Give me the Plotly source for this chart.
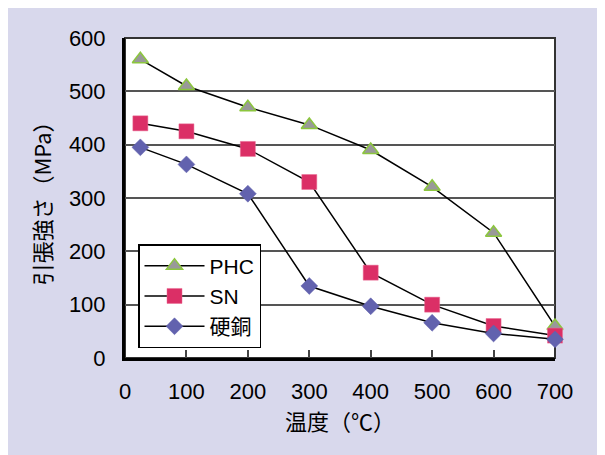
import plotly.graph_objects as go

temps = [25, 100, 200, 300, 400, 500, 600, 700]
phc = [560, 510, 470, 437, 390, 321, 235, 60]
sn = [440, 425, 392, 330, 160, 100, 60, 42]
hard_copper = [395, 363, 308, 135, 97, 66, 46, 35]
x_ticks = [0, 100, 200, 300, 400, 500, 600, 700]
y_ticks = [0, 100, 200, 300, 400, 500, 600]

FONT = "Liberation Sans, Arial, Noto Sans CJK JP"
CJK = "Noto Sans CJK JP, " + FONT

fig = go.Figure()
fig.add_trace(go.Scatter(
    x=temps, y=phc, name="PHC", mode="lines+markers",
    line=dict(color="black", width=1.5),
    marker=dict(symbol="triangle-up", size=14, color="#999999",
                line=dict(color="#8CC63E", width=1.5)),
    cliponaxis=False))
fig.add_trace(go.Scatter(
    x=temps, y=sn, name="SN", mode="lines+markers",
    line=dict(color="black", width=1.5),
    marker=dict(symbol="square", size=15, color="#DB2F66",
                line=dict(color="#E86A92", width=0.5)),
    cliponaxis=False))
fig.add_trace(go.Scatter(
    x=temps, y=hard_copper, name="硬銅", mode="lines+markers",
    line=dict(color="black", width=1.5),
    marker=dict(symbol="diamond", size=13, color="#6262AE",
                line=dict(color="#6262AE", width=0.5)),
    cliponaxis=False))

# page body adds an 8px offset; figure sized to fill the rest of the window
W, H = 597, 447
L, T = 117, 30
pw, ph = 430, 320
R = W - L - pw
B = H - T - ph

def px_x(p):
    return (p - 8 - L) / pw

def px_y(p):
    return (H - B - (p - 8)) / ph

shapes = [
    dict(type="rect", xref="paper", yref="paper",
         x0=0, x1=1, y0=0, y1=1,
         fillcolor="white", line=dict(color="#333333", width=2), layer="below"),
]

fig.update_layout(
    width=W, height=H,
    margin=dict(l=L, r=R, t=T, b=B),
    paper_bgcolor="#D8D8EC",
    plot_bgcolor="white",
    font=dict(family=FONT, size=22, color="black"),
    shapes=shapes,
    showlegend=True,
    legend=dict(
        x=px_x(138), y=px_y(244), xanchor="left", yanchor="top",
        bgcolor="white", bordercolor="black", borderwidth=1.5,
        font=dict(family=FONT, size=21), itemwidth=60,
        entrywidth=60, tracegroupgap=0),
    xaxis=dict(
        range=[0, 700], tickvals=x_ticks, ticks="inside", ticklen=8,
        tickwidth=1.5, tickcolor="#444444",
        showline=True, linecolor="black", linewidth=3,
        showgrid=False, zeroline=False, ticklabelstandoff=12,
        title=dict(text="温度（℃）", standoff=10,
                   font=dict(family=CJK, size=22))),
    yaxis=dict(
        range=[0, 600], tickvals=y_ticks, ticks="",
        showline=True, linecolor="black", linewidth=3,
        showgrid=True, gridcolor="#555555", gridwidth=1.5,
        zeroline=False, ticklabelstandoff=12,
        title=dict(text="引張強さ（MPa）", standoff=12,
                   font=dict(family=CJK, size=22))),
)

fig.write_html("out.html")
